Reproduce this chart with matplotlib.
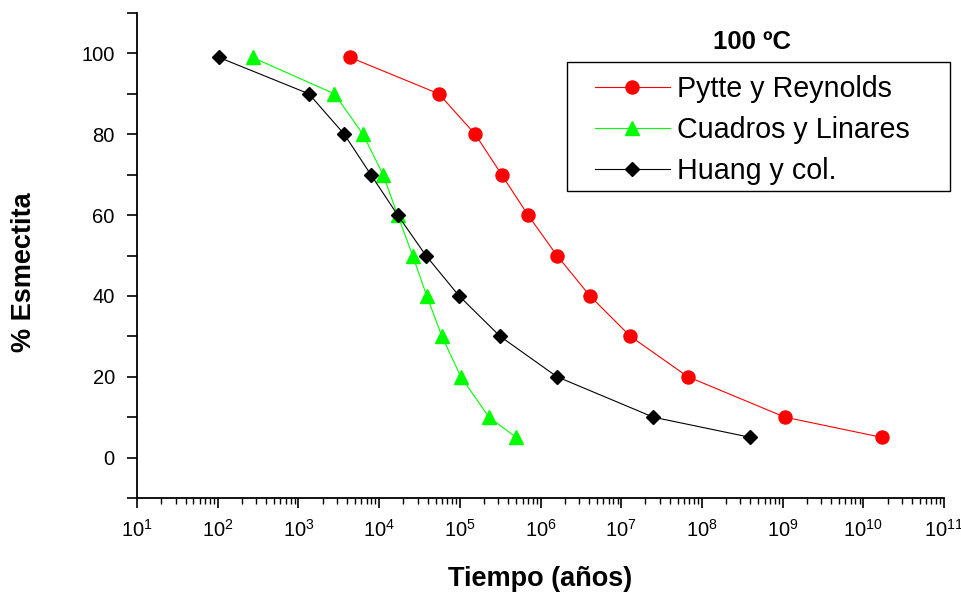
import numpy as np
import matplotlib
matplotlib.use('Agg')
import matplotlib.pyplot as plt
from matplotlib.patches import Rectangle
from matplotlib.ticker import LogLocator, MultipleLocator, NullFormatter

plt.rcParams['font.family'] = ['Liberation Sans', 'DejaVu Sans']
plt.rcParams['mathtext.fontset'] = 'custom'
plt.rcParams['mathtext.rm'] = 'Liberation Sans'
plt.rcParams['mathtext.it'] = 'Liberation Sans'

# % smectite levels shared by the three series
smectite = [99, 90, 80, 70, 60, 50, 40, 30, 20, 10, 5]

# time in years
pytte_years = [4.4e3, 5.5e4, 1.55e5, 3.3e5, 7.0e5, 1.6e6, 4.1e6, 1.3e7, 6.7e7, 1.07e9, 1.7e10]
cuadros_years = [2.7e2, 2.8e3, 6.3e3, 1.12e4, 1.7e4, 2.6e4, 3.9e4, 6.0e4, 1.03e5, 2.3e5, 5.0e5]
huang_years = [1.04e2, 1.35e3, 3.7e3, 7.9e3, 1.7e4, 3.8e4, 9.8e4, 3.16e5, 1.6e6, 2.5e7, 4.0e8]

fig = plt.figure(figsize=(9.62, 5.95), dpi=100)
ax = fig.add_axes([137/962, 1 - 498/595, (944-137)/962, (498-13)/595])

ax.plot(pytte_years, smectite, color='#ff0000', lw=0.8, marker='o', ms=9.4,
        label='Pytte y Reynolds')
ax.plot(cuadros_years, smectite, color='#00ff00', lw=0.8, marker='^', ms=10.5,
        label='Cuadros y Linares')
ax.plot(huang_years, smectite, color='black', lw=0.8, marker='D', ms=7,
        label='Huang y col.')

ax.set_xscale('log')
ax.set_xlim(1e1, 1e11)
ax.set_ylim(-10, 110)
ax.xaxis.set_major_locator(LogLocator(base=10, numticks=20))
ax.xaxis.set_minor_locator(LogLocator(base=10, subs=np.arange(2, 10), numticks=20))
ax.xaxis.set_minor_formatter(NullFormatter())
ax.yaxis.set_major_locator(MultipleLocator(20))
ax.yaxis.set_minor_locator(MultipleLocator(10))

for s in ['top', 'right']:
    ax.spines[s].set_visible(False)
for s in ['left', 'bottom']:
    ax.spines[s].set_linewidth(1.3)

ax.tick_params(axis='both', which='major', direction='out', length=7.5, width=1.2,
               labelsize=14.5)
ax.tick_params(axis='x', which='major', pad=7.5)
ax.tick_params(axis='y', which='major', pad=8.5)
ax.tick_params(axis='x', which='minor', direction='out', length=4, width=1.0)
ax.tick_params(axis='y', which='minor', direction='out', length=7.5, width=1.2)

ax.set_xlabel('Tiempo (años)', fontsize=19.5, fontweight='bold', labelpad=18)
ax.set_ylabel('% Esmectita', fontsize=19.5, fontweight='bold', labelpad=32)
ax.yaxis.label.set_y(0.465)

fig.text(752/962, 1 - 42/595, '100 ºC', fontsize=18.5, fontweight='bold',
         ha='center', va='center')

# legend frame drawn separately so its padding matches the original box
fig.patches.append(Rectangle((567/962, 1 - 191/595), (950-567)/962, (191-62)/595,
                             transform=fig.transFigure, fill=False,
                             edgecolor='black', lw=1.0))
fig.legend(loc='upper left', bbox_to_anchor=(595/962, 1 - 75/595),
           fontsize=20.6, frameon=False, handlelength=2.62, handletextpad=0.25,
           borderpad=0, labelspacing=0.45, borderaxespad=0)

fig.savefig('out.png', dpi=100)
